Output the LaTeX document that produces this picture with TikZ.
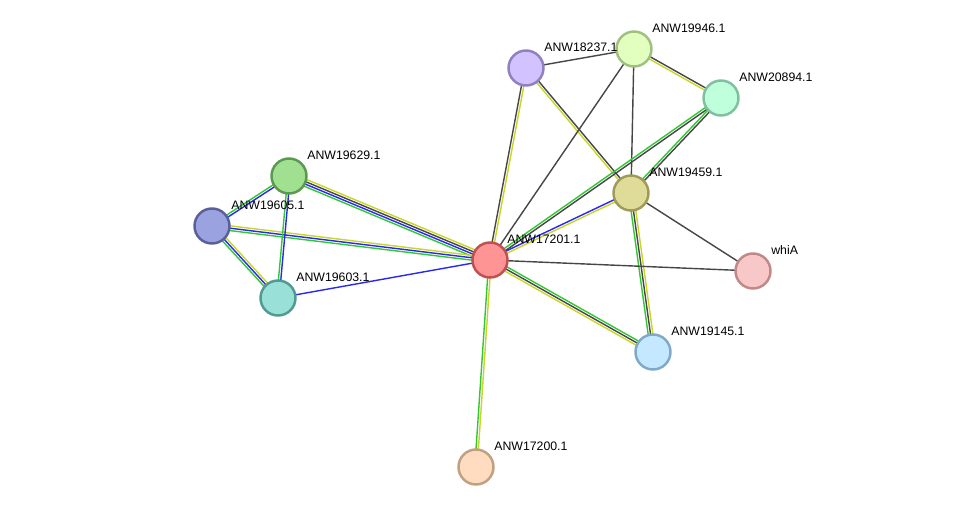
\documentclass[tikz,border=0pt]{standalone}
\usepackage{fontspec}
\setmainfont{Liberation Sans}
\usepackage{tikz}
\usetikzlibrary{calc,positioning,backgrounds}
\definecolor{lgreen}{RGB}{51,200,51}
\definecolor{lblue}{RGB}{40,40,240}
\definecolor{lyellow}{RGB}{200,214,40}
\definecolor{lgray}{RGB}{70,70,70}
\definecolor{f17201}{HTML}{FF9494}\definecolor{d17201}{HTML}{C05050}
\definecolor{f19629}{HTML}{A0E090}\definecolor{d19629}{HTML}{5A9A50}
\definecolor{f19605}{HTML}{9AA3E0}\definecolor{d19605}{HTML}{5A5F9A}
\definecolor{f19603}{HTML}{98E0D8}\definecolor{d19603}{HTML}{509A90}
\definecolor{f18237}{HTML}{D2C2FF}\definecolor{d18237}{HTML}{9080C0}
\definecolor{f19946}{HTML}{E2FFC0}\definecolor{d19946}{HTML}{A0C080}
\definecolor{f20894}{HTML}{C0FFDC}\definecolor{d20894}{HTML}{80C0A0}
\definecolor{f19459}{HTML}{DEDC98}\definecolor{d19459}{HTML}{A09A58}
\definecolor{fwhiA}{HTML}{F8C8C8}\definecolor{dwhiA}{HTML}{C08888}
\definecolor{f19145}{HTML}{C4E8FF}\definecolor{d19145}{HTML}{80A8C8}
\definecolor{f17200}{HTML}{FFDCC0}\definecolor{d17200}{HTML}{C0A080}
% band of parallel lines between two nodes
\newcommand{\lnk}[3]{%
  \foreach \c [count=\k] in {#3}{\xdef\nl{\k}}%
  \foreach \c [count=\i] in {#3}{%
    \pgfmathsetmacro\off{(\i-(\nl+1)/2)*1.35}%
    \draw[line width=0.8pt,\c] ($(#1)!\off pt!90:(#2)$) -- ($(#2)!\off pt!-90:(#1)$);}%
}
\tikzset{
  prot/.style={circle, minimum size=0.7cm, inner sep=0pt, line width=1.4pt, fill=f#1, draw=d#1},
  lbl/.style={anchor=base west, inner sep=0pt, font=\fontsize{7}{8}\selectfont}
}

\begin{document}
\begin{tikzpicture}[x=0.02cm,y=-0.02cm]
        \useasboundingbox (0,0) rectangle (975,513);
        %Proteins
        \node[prot=17201] (n17201) at (490,260) {};
        \node[prot=19629] (n19629) at (289,176) {};
        \node[prot=19605] (n19605) at (212,226) {};
        \node[prot=19603] (n19603) at (278,298) {};
        \node[prot=18237] (n18237) at (526,68) {};
        \node[prot=19946] (n19946) at (634,49) {};
        \node[prot=20894] (n20894) at (721,98) {};
        \node[prot=19459] (n19459) at (631,193) {};
        \node[prot=whiA] (nwhiA) at (753,271) {};
        \node[prot=19145] (n19145) at (653,352) {};
        \node[prot=17200] (n17200) at (476,467) {};
        %Labels
        \node[lbl] (t17201) at ([shift={(17,-16)}]n17201.center) {ANW17201.1};
        \node[lbl] (t19629) at ([shift={(18,-16.5)}]n19629.center) {ANW19629.1};
        \node[lbl] (t19605) at ([shift={(19,-16.5)}]n19605.center) {ANW19605.1};
        \node[lbl] (t19603) at ([shift={(18,-16.5)}]n19603.center) {ANW19603.1};
        \node[lbl] (t18237) at ([shift={(18,-16.5)}]n18237.center) {ANW18237.1};
        \node[lbl] (t19946) at ([shift={(18,-16.5)}]n19946.center) {ANW19946.1};
        \node[lbl] (t20894) at ([shift={(18,-16.5)}]n20894.center) {ANW20894.1};
        \node[lbl] (t19459) at ([shift={(18,-16.5)}]n19459.center) {ANW19459.1};
        \node[lbl] (twhiA) at ([shift={(18,-16.5)}]nwhiA.center) {whiA};
        \node[lbl] (t19145) at ([shift={(18,-16.5)}]n19145.center) {ANW19145.1};
        \node[lbl] (t17200) at ([shift={(18,-16.5)}]n17200.center) {ANW17200.1};
        %Edges
        \begin{pgfonlayer}{background}
        \lnk{n19629}{n17201}{lgreen,lblue,lgray,lyellow}
        \lnk{n19605}{n17201}{lgreen,lblue,lyellow}
        \lnk{n19603}{n17201}{lblue}
        \lnk{n19629}{n19605}{lgreen,lblue}
        \lnk{n19629}{n19603}{lgreen,lblue}
        \lnk{n19605}{n19603}{lgreen,lblue,lyellow}
        \lnk{n18237}{n17201}{lgray,lyellow}
        \lnk{n18237}{n19946}{lgray}
        \lnk{n18237}{n19459}{lyellow,lgray}
        \lnk{n19946}{n17201}{lgray}
        \lnk{n19946}{n19459}{lgray}
        \lnk{n19946}{n20894}{lyellow,lgray}
        \lnk{n20894}{n17201}{lgreen,lgray}
        \lnk{n20894}{n19459}{lgreen,lgray}
        \lnk{n19459}{n17201}{lblue,lyellow}
        \lnk{n19459}{nwhiA}{lgray}
        \lnk{n19459}{n19145}{lgreen,lgray,lyellow}
        \lnk{n17201}{nwhiA}{lgray}
        \lnk{n17201}{n19145}{lyellow,lgray,lgreen}
        \lnk{n17201}{n17200}{lgreen,lyellow}
        \end{pgfonlayer}
\end{tikzpicture}
\end{document}
